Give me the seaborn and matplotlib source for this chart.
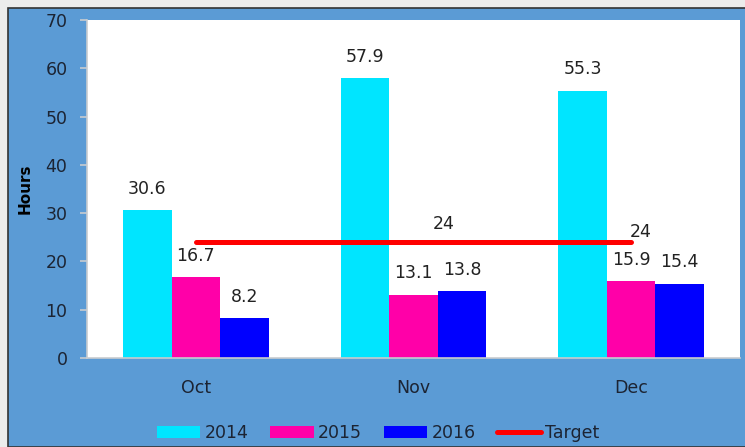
import numpy as np
import pandas as pd
import matplotlib.pyplot as plt
import seaborn as sns
from matplotlib.patches import Rectangle
from matplotlib.lines import Line2D
from matplotlib.patches import Patch

# ---------------------- 数据 ----------------------
months = ['Oct', 'Nov', 'Dec']
years = ['2014', '2015', '2016']
hours_2014 = [30.6, 57.9, 55.3]
hours_2015 = [16.7, 13.1, 15.9]
hours_2016 = [8.2, 13.8, 15.4]
target = [24, 24, 24]

colors = ['#00E5FF', '#FF00A8', '#0000FF']
bg_blue = '#5B9BD5'
text_col = '#1c2433'

df = pd.DataFrame({
    'Month': months * 3,
    'Year': [y for y in years for _ in months],
    'Hours': hours_2014 + hours_2015 + hours_2016,
})

sns.set_style('white')
plt.rcParams['font.family'] = ['DejaVu Sans']

fig = plt.figure(figsize=(7.45, 4.47), dpi=100, facecolor='#ececec')
# 蓝色外框背景
fig.patches.append(Rectangle((8 / 745, 0), 1, 1 - 8 / 447, transform=fig.transFigure,
                             facecolor=bg_blue, edgecolor='#333333', linewidth=1.2, zorder=-5))

ax = fig.add_axes([87 / 745, 1 - 358 / 447, 653 / 745, 338 / 447])
ax.set_zorder(2)
ax.set_facecolor('white')

sns.barplot(data=df, x='Month', y='Hours', hue='Year', palette=colors,
            width=0.67, linewidth=0, saturation=1, ax=ax, legend=False)

for cont in ax.containers:
    ax.bar_label(cont, fmt='%.1f', padding=9, fontsize=12.5, color='#222222')

# 目标线
xpos = np.arange(len(months))
ax.plot(xpos, target, color='#FF0000', linewidth=3.6, solid_capstyle='round', zorder=3)
ax.annotate(str(target[1]), (xpos[1], target[1]), xytext=(22, 13), textcoords='offset points',
            ha='center', va='center', fontsize=12.5, color='#222222')
ax.annotate(str(target[2]), (xpos[2], target[2]), xytext=(6.5, 7), textcoords='offset points',
            ha='center', va='center', fontsize=12.5, color='#222222')

ax.set_xlim(-0.5, 2.5)
ax.set_ylim(0, 70)
ax.set_yticks(range(0, 71, 10))
ax.set_xlabel('')
ax.set_ylabel('')

for s in ['top', 'right']:
    ax.spines[s].set_visible(False)
for s in ['left', 'bottom']:
    ax.spines[s].set_color('#c8ccd0')
    ax.spines[s].set_linewidth(1.2)

ax.set_xticks([-0.5, 0.5, 1.5, 2.5], minor=True)
ax.tick_params(axis='x', which='major', length=0, pad=15, labelsize=12.5, labelcolor=text_col)
ax.tick_params(axis='x', which='minor', length=5, color='#c8ccd0', direction='out')
ax.tick_params(axis='y', length=5, width=1.2, color='#c8ccd0', pad=9,
               labelsize=12.5, labelcolor=text_col, direction='out', left=True)

fig.text(25 / 745, 1 - 189 / 447, 'Hours', rotation=90, ha='center', va='center',
         fontsize=11, fontweight='bold', color='black')

handles = [Patch(facecolor=c, edgecolor='none') for c in colors]
handles.append(Line2D([0], [0], color='#FF0000', linewidth=3.6, solid_capstyle='round'))
fig.legend(handles, years + ['Target'], loc='center', bbox_to_anchor=(378 / 745, 1 - 433 / 447),
           ncol=4, frameon=False, fontsize=12.5, labelcolor=text_col,
           handlelength=2.5, handleheight=0.7, handletextpad=0.25, columnspacing=1.25)

plt.savefig('out.png', dpi=100, facecolor=fig.get_facecolor())
